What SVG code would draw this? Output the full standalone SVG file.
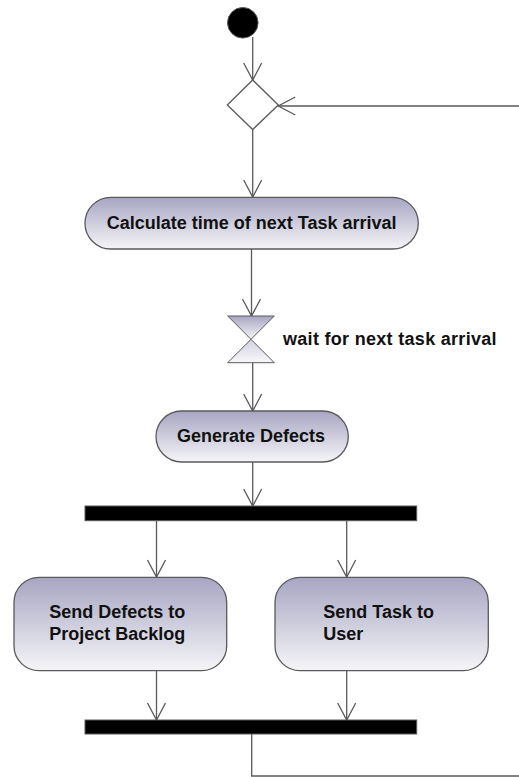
<svg xmlns="http://www.w3.org/2000/svg" width="519" height="777" viewBox="0 0 519 777">
<style>
.edge{fill:none;stroke:#5a5a5a;stroke-width:1.3}
.act{fill:url(#g);stroke:#5a5a5a;stroke-width:1.3}
.bar{fill:#000;stroke:#5a5a5a;stroke-width:1}
.t{font-family:"Liberation Sans",Arial,sans-serif;font-weight:bold;font-size:18px;fill:#111}
</style>
<defs>
<linearGradient id="g" x1="0" y1="0" x2="0" y2="1">
<stop offset="0" stop-color="#a7a5c2"/>
<stop offset="1" stop-color="#f5f5f8"/>
</linearGradient>
<linearGradient id="g2" x1="0" y1="0" x2="0" y2="1">
<stop offset="0" stop-color="#d2d1e2"/>
<stop offset="1" stop-color="#f7f7fa"/>
</linearGradient>
<marker id="arr" viewBox="-19 -11 21 22" markerWidth="21" markerHeight="22" refX="0" refY="0" orient="auto" markerUnits="userSpaceOnUse">
<path d="M-17,-9 L0,0 L-17,9" fill="none" stroke="#5a5a5a" stroke-width="1.3"/>
</marker>
</defs>
<g id="connectors">
<path class="edge" d="M252.7,37 V80" marker-end="url(#arr)"/>
<path class="edge" d="M519,106 H278.3" marker-end="url(#arr)"/>
<path class="edge" d="M252.7,129.5 V197" marker-end="url(#arr)"/>
<path class="edge" d="M251.5,249 V316" marker-end="url(#arr)"/>
<path class="edge" d="M252.7,363 V411" marker-end="url(#arr)"/>
<path class="edge" d="M252.7,462 V506" marker-end="url(#arr)"/>
<path class="edge" d="M156.5,521 V577" marker-end="url(#arr)"/>
<path class="edge" d="M346.7,521 V577" marker-end="url(#arr)"/>
<path class="edge" d="M156.5,671 V720" marker-end="url(#arr)"/>
<path class="edge" d="M346.7,671 V720" marker-end="url(#arr)"/>
<path class="edge" d="M251.7,734 V776 H519"/>
</g>
<g id="start">
<circle cx="242.8" cy="22.8" r="15.3" fill="#000" stroke="#5a5a5a" stroke-width="1"/>
</g>
<g id="merge">
<polygon points="252.7,80 278.3,105 252.7,129.5 227.3,105" fill="#fff" stroke="#5a5a5a" stroke-width="1.3"/>
</g>
<g id="calc">
<rect class="act" x="85" y="197.3" width="333.3" height="51.7" rx="25.8"/>
<text class="t" x="251.7" y="229" text-anchor="middle">Calculate time of next Task arrival</text>
</g>
<g id="wait">
<polygon points="227.7,316 274.3,316 251,339.3" fill="url(#g)" stroke="#5a5a5a" stroke-width="1"/>
<polygon points="251,339.3 274.3,362.7 227.7,362.7" fill="url(#g2)" stroke="#5a5a5a" stroke-width="1"/>
<text class="t" x="283" y="345" letter-spacing="0.3">wait for next task arrival</text>
</g>
<g id="generate">
<rect class="act" x="156" y="411" width="192.3" height="51" rx="25.5"/>
<text class="t" x="251" y="442" text-anchor="middle">Generate Defects</text>
</g>
<g id="fork">
<rect class="bar" x="85" y="506" width="331.7" height="14.7"/>
</g>
<g id="sendDefects">
<rect class="act" x="14" y="577.3" width="212.7" height="93.4" rx="25"/>
<text class="t" x="49.3" y="618.3">Send Defects to</text>
<text class="t" x="49.3" y="640">Project Backlog</text>
</g>
<g id="sendTask">
<rect class="act" x="275" y="577.3" width="213.3" height="93.4" rx="25"/>
<text class="t" x="323.3" y="618.3">Send Task to</text>
<text class="t" x="323.3" y="640">User</text>
</g>
<g id="join">
<rect class="bar" x="85" y="720" width="331.7" height="14"/>
</g>
</svg>
